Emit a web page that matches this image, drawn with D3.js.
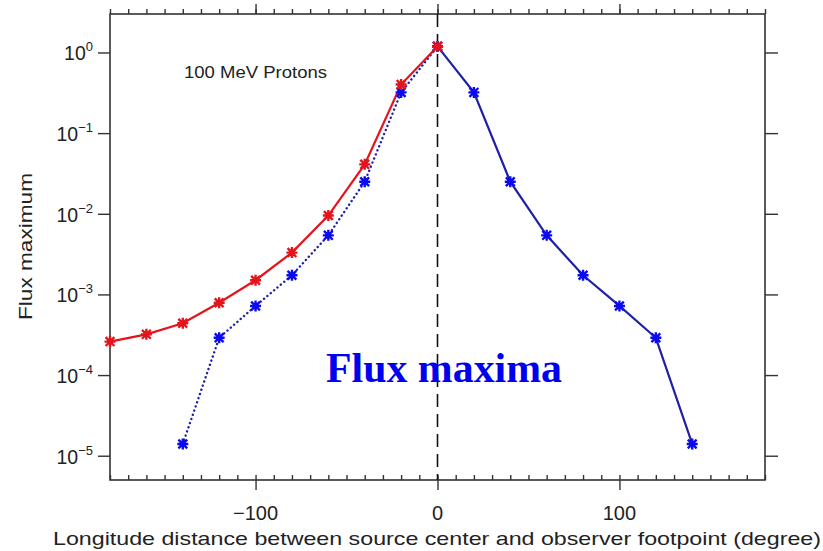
<!DOCTYPE html>
<html>
<head>
<meta charset="utf-8">
<script src="https://cdn.jsdelivr.net/npm/d3@7/dist/d3.min.js"></script>
<style>
  html, body { margin: 0; padding: 0; background: #fff; }
  svg { display: block; }
  .lbl { font-family: "Liberation Sans", Arial, sans-serif; fill: #222; }
  .caption { font-family: "Liberation Serif", "Times New Roman", serif; font-weight: bold; fill: #0000f0; }
</style>
</head>
<body>
<svg id="chart" width="823" height="551"></svg>
<script>
// Longitude (degrees) and peak flux of 100 MeV protons
const lonRed = [-180, -160, -140, -120, -100, -80, -60, -40, -20, 0];
const fluxRed = [2.6e-4, 3.2e-4, 4.4e-4, 7.9e-4, 1.5e-3, 3.3e-3, 9.5e-3, 0.041, 0.40, 1.19];

const lonBlueWest = [-140, -120, -100, -80, -60, -40, -20, 0];
const fluxBlueWest = [1.4e-5, 2.9e-4, 7.2e-4, 1.73e-3, 5.4e-3, 0.025, 0.32, 1.19];

const lonBlueEast = [0, 20, 40, 60, 80, 100, 120, 140];
const fluxBlueEast = [1.19, 0.32, 0.025, 5.4e-3, 1.73e-3, 7.2e-4, 2.9e-4, 1.4e-5];

const xMajorTicks = [-100, 0, 100];
const xMinorTicks = d3.range(-180, 181, 10);
const yTickExponents = [0, -1, -2, -3, -4, -5];

const svg = d3.select("#chart");
const plotL = 110, plotR = 765, plotT = 14, plotB = 480;

const x = d3.scaleLinear().domain([-180, 180]).range([plotL, plotR]);
const y = d3.scaleLog().domain([5e-6, 3]).range([plotB, plotT]);

const RED = "#e3141c";
const BLUE = "#0a0af0";
const NAVY = "#1f1fa8";

// Frame
svg.append("rect")
  .attr("x", plotL).attr("y", plotT)
  .attr("width", plotR - plotL).attr("height", plotB - plotT)
  .attr("fill", "none").attr("stroke", "#333").attr("stroke-width", 1.6);

function styleAxis(g) {
  g.select(".domain").remove();
  g.selectAll(".tick line").attr("stroke", "#333").attr("stroke-width", 1.4);
  g.selectAll(".tick text").remove();
}

// Top axis: ticks pointing outward
svg.append("g").attr("transform", `translate(0,${plotT})`)
  .call(d3.axisTop(x).tickValues(xMinorTicks).tickSize(5)).call(styleAxis);
svg.append("g").attr("transform", `translate(0,${plotT})`)
  .call(d3.axisTop(x).tickValues(xMajorTicks).tickSize(10)).call(styleAxis);

// Bottom axis: minor ticks inside, major ticks outside
svg.append("g").attr("transform", `translate(0,${plotB})`)
  .call(d3.axisTop(x).tickValues(xMinorTicks).tickSize(5)).call(styleAxis);
svg.append("g").attr("transform", `translate(0,${plotB})`)
  .call(d3.axisBottom(x).tickValues(xMajorTicks).tickSize(10)).call(styleAxis);

// Bottom tick labels
svg.append("g").selectAll("text")
  .data(xMajorTicks).join("text")
  .attr("class", "lbl")
  .attr("x", d => x(d)).attr("y", 520)
  .attr("text-anchor", "middle")
  .attr("font-size", 20)
  .text(d => d < 0 ? "\u2212" + Math.abs(d) : d);

// Y axes (left and right), ticks outward
const yVals = yTickExponents.map(e => Math.pow(10, e));
svg.append("g").attr("transform", `translate(${plotL},0)`)
  .call(d3.axisLeft(y).tickValues(yVals).tickSize(12)).call(styleAxis);
svg.append("g").attr("transform", `translate(${plotR},0)`)
  .call(d3.axisRight(y).tickValues(yVals).tickSize(13)).call(styleAxis);

// Y tick labels as 10^n
const yl = svg.append("g").selectAll("text")
  .data(yTickExponents).join("text")
  .attr("class", "lbl")
  .attr("x", 93).attr("y", d => y(Math.pow(10, d)) + 8)
  .attr("text-anchor", "end")
  .attr("font-size", 19.5);
yl.append("tspan").text("10");
yl.append("tspan").attr("dy", -9).attr("font-size", 13)
  .text(d => d < 0 ? "\u2212" + Math.abs(d) : String(d));

// Axis titles
svg.append("text")
  .attr("class", "lbl")
  .attr("x", 53).attr("y", 545)
  .attr("font-size", 18.5)
  .attr("textLength", 768).attr("lengthAdjust", "spacingAndGlyphs")
  .text("Longitude distance between source center and observer footpoint (degree)");

svg.append("text")
  .attr("class", "lbl")
  .attr("transform", "translate(32,246.5) rotate(-90)")
  .attr("text-anchor", "middle")
  .attr("font-size", 19)
  .attr("textLength", 147).attr("lengthAdjust", "spacingAndGlyphs")
  .text("Flux maximum");

svg.append("text")
  .attr("class", "lbl")
  .attr("x", 184).attr("y", 78)
  .attr("font-size", 16)
  .attr("textLength", 143).attr("lengthAdjust", "spacingAndGlyphs")
  .text("100 MeV Protons");

// Reference line at zero separation
svg.append("line")
  .attr("x1", x(0)).attr("x2", x(0))
  .attr("y1", plotT).attr("y2", plotB)
  .attr("stroke", "#111").attr("stroke-width", 1.6)
  .attr("stroke-dasharray", "13,7");

const line = d3.line().x(d => x(d[0])).y(d => y(d[1]));
const zip = (a, b) => a.map((v, i) => [v, b[i]]);

const west = zip(lonBlueWest, fluxBlueWest);
const east = zip(lonBlueEast, fluxBlueEast);
const red = zip(lonRed, fluxRed);

svg.append("path").datum(west).attr("d", line)
  .attr("fill", "none").attr("stroke", NAVY).attr("stroke-width", 2.4)
  .attr("stroke-dasharray", "0.1,4.3").attr("stroke-linecap", "round");

svg.append("path").datum(east).attr("d", line)
  .attr("fill", "none").attr("stroke", NAVY).attr("stroke-width", 2.2);

svg.append("path").datum(red).attr("d", line)
  .attr("fill", "none").attr("stroke", RED).attr("stroke-width", 2.2);

// Asterisk markers
const r = 5.5;
const asterisk = `M${-r},0L${r},0M0,${-r}L0,${r}M${-r * 0.8},${-r * 0.8}L${r * 0.8},${r * 0.8}M${-r * 0.8},${r * 0.8}L${r * 0.8},${-r * 0.8}`;
function markers(data, color) {
  svg.append("g").selectAll("path")
    .data(data).join("path")
    .attr("transform", d => `translate(${x(d[0])},${y(d[1])})`)
    .attr("d", asterisk)
    .attr("fill", "none").attr("stroke", color).attr("stroke-width", 2.4);
}
markers(west, BLUE);
markers(east, BLUE);
markers(red, RED);

// Caption
svg.append("text")
  .attr("class", "caption")
  .attr("x", 326).attr("y", 382)
  .attr("font-size", 42)
  .attr("textLength", 236).attr("lengthAdjust", "spacingAndGlyphs")
  .text("Flux maxima");
</script>
</body>
</html>
